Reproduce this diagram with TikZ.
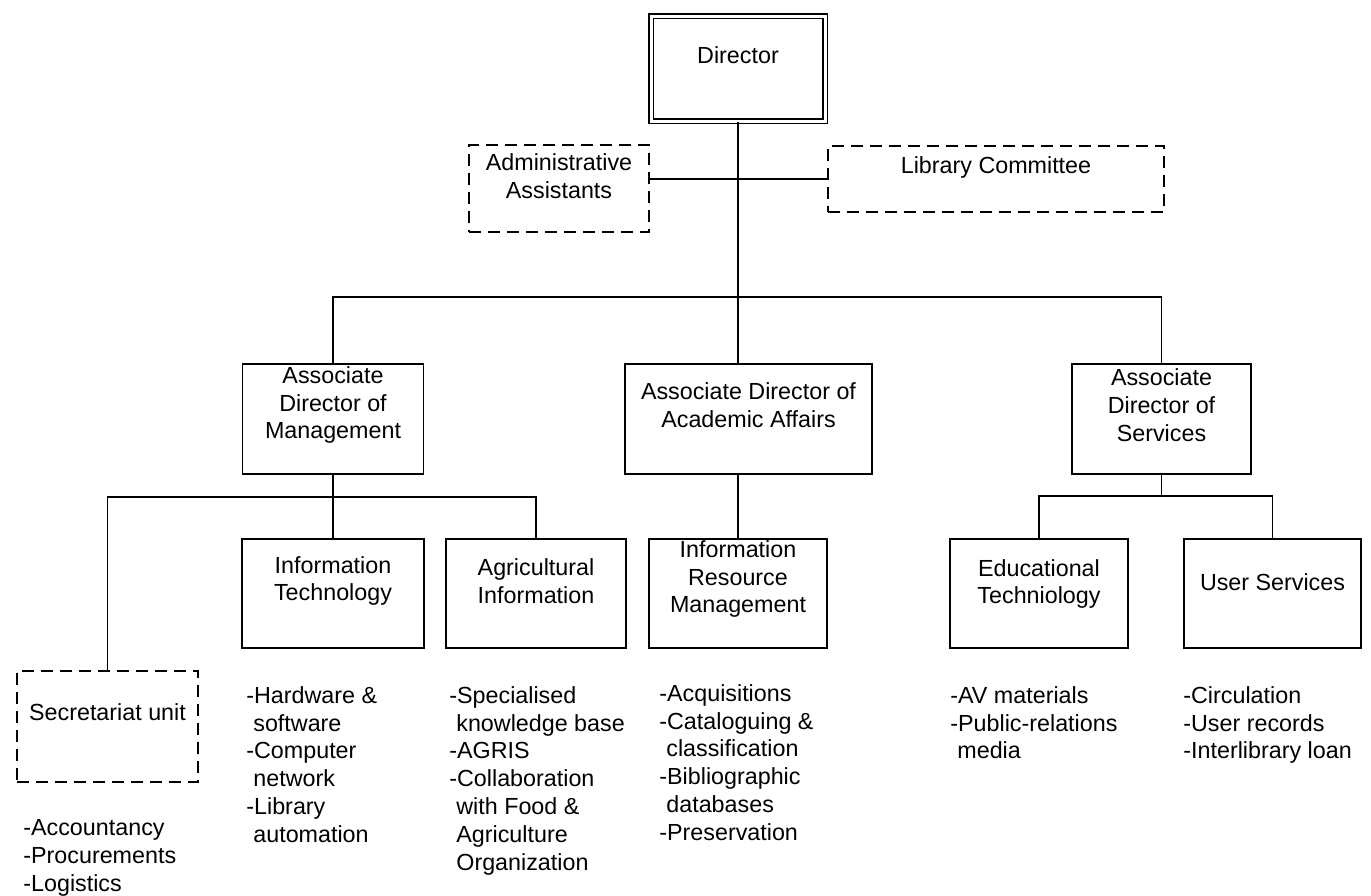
\documentclass[tikz,border=0pt]{standalone}
\usepackage{fontspec}
\setmainfont{Liberation Sans}
\usetikzlibrary{calc,positioning}
\newcommand{\orgfont}{\fontsize{11.65pt}{13.9pt}\selectfont}
\newcommand{\hang}{\hspace*{0.3em}}

\begin{document}
\begin{tikzpicture}[
    x=0.5pt, y=-0.5pt,
    box/.style={draw, line width=0.9pt, inner sep=0pt, minimum height=55pt},
    dbox/.style={box, dash pattern=on 6pt off 3.5pt},
    lbl/.style={align=center, inner sep=0pt, font=\orgfont},
    lst/.style={align=left, anchor=north west, inner sep=0pt, font=\orgfont},
    link/.style={line width=0.7pt}
]
\useasboundingbox (0,0) rectangle (1371,895);
\node[box, double, double distance=1.5pt, line width=0.8pt, minimum width=87pt, minimum height=52.5pt] (dir) at (738,68.5) {};
\node[dbox, minimum width=90pt, minimum height=43.5pt] (admin) at (559,188.5) {};
\node[dbox, minimum width=168pt, minimum height=33pt] (libc) at (996,179) {};
\node[box, minimum width=90.5pt] (admgt) at (333,419) {};
\node[box, minimum width=123.5pt] (acad) at (748.5,419) {};
\node[box, minimum width=89.5pt] (asvc) at (1161.5,419) {};
\node[dbox, minimum width=90.5pt, minimum height=55.5pt] (sec) at (107.5,726.5) {};
\node[box, minimum width=91pt, minimum height=54.5pt] (it) at (333,593.5) {};
\node[box, minimum width=90pt, minimum height=54.5pt] (agri) at (536,593.5) {};
\node[box, minimum width=89pt, minimum height=54.5pt] (irm) at (738,593.5) {};
\node[box, minimum width=89pt, minimum height=54.5pt] (edt) at (1039,593.5) {};
\node[box, minimum width=88.5pt, minimum height=54.5pt] (usr) at (1272.5,593.5) {};

\node[lbl] (dir-t) at (738,55) {Director};
\node[lbl] (admin-t) at (559,176.5) {Administrative\\Assistants};
\node[lbl] (libc-t) at (996,167) {Library Committee};
\node[lbl] (admgt-t) at (333,405) {Associate\\Director of\\Management};
\node[lbl] (acad-t) at (748.5,405) {Associate Director of\\Academic Affairs};
\node[lbl] (asvc-t) at (1161.5,405) {Associate\\Director of\\Services};
\node[lbl] (sec-t) at (107.5,712) {Secretariat unit};
\node[lbl] (it-t) at (333,581) {Information\\Technology};
\node[lbl] (agri-t) at (536,581) {Agricultural\\Information};
\node[lbl] (irm-t) at (738,579) {Information\\Resource\\Management};
\node[lbl] (edt-t) at (1039,584) {Educational\\Techniology};
\node[lbl] (usr-t) at (1272.5,582) {User Services};

\node[lst] (sec-l) at (23,819) {-Accountancy\\-Procurements\\-Logistics};
\node[lst] (it-l) at (246,686) {-Hardware \&\\\hang software\\-Computer\\\hang network\\-Library\\\hang automation};
\node[lst] (agri-l) at (449,686) {-Specialised\\\hang knowledge base\\-AGRIS\\-Collaboration\\\hang with Food \&\\\hang Agriculture\\\hang Organization};
\node[lst] (irm-l) at (659,684) {-Acquisitions\\-Cataloguing \&\\\hang classification\\-Bibliographic\\\hang databases\\-Preservation};
\node[lst] (edt-l) at (950,686) {-AV materials\\-Public-relations\\\hang media};
\node[lst] (usr-l) at (1183,686) {-Circulation\\-User records\\-Interlibrary loan};

\draw[link] (dir.south) -- (dir.south |- acad.north);
\draw[link] (libc.west) -- (libc.west -| admin.east);
\draw[link] (admgt.north) -- ++(0,-66) -| (asvc.north);
\draw[link] (admgt.south) -- ++(0,22) coordinate (mbus);
\draw[link] (sec.north) |- (mbus) -| (agri.north);
\draw[link] (mbus) -- (it.north);
\draw[link] (acad.south -| irm.north) -- (irm.north);
\draw[link] (asvc.south) -- ++(0,21) coordinate (sbus);
\draw[link] (edt.north) |- (sbus) -| (usr.north);
\end{tikzpicture}
\end{document}
